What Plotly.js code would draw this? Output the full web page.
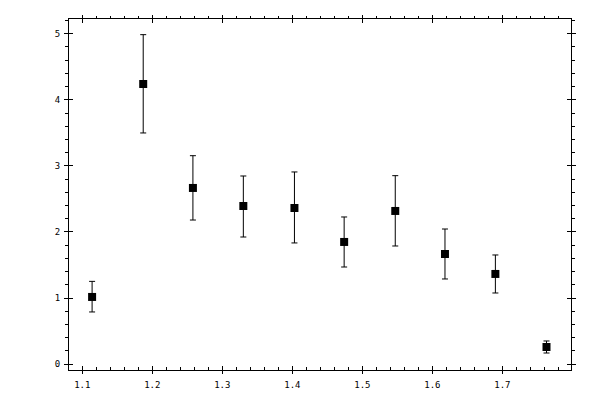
<!DOCTYPE html>
<html>
<head>
<meta charset="utf-8">
<script src="https://cdn.plot.ly/plotly-3.0.1.min.js"></script>
<style>
  body { margin: 0; background: #fff; }
  #plot { width: 600px; height: 400px; }
</style>
</head>
<body>
<div id="plot"></div>
<script>
// punkty pomiarowe
const xVals = [1.114, 1.187, 1.258, 1.330, 1.403, 1.474, 1.547, 1.618, 1.690, 1.763];
const yVals = [1.017, 4.239, 2.666, 2.393, 2.363, 1.849, 2.318, 1.667, 1.365, 0.260];
// niepewnosci w gore i w dol
const errUp   = [0.236, 0.746, 0.488, 0.454, 0.545, 0.378, 0.534, 0.378, 0.287, 0.091];
const errDown = [0.227, 0.741, 0.485, 0.469, 0.529, 0.379, 0.530, 0.378, 0.288, 0.091];

const xRange = [1.081, 1.798];
const yRange = [-0.088, 5.222];

const tickFont = {family: "DejaVu Sans Mono, monospace", size: 9, color: "#000"};

// os bazowa - reszta to nakladki dajace kreski "na krzyz"
function axis(opts){
    return Object.assign({
        showgrid: false,
        zeroline: false,
        linecolor: "#000",
        linewidth: 1,
        tickcolor: "#000",
        tickwidth: 1,
        tickfont: tickFont
    }, opts);
}

var trace = {
    type: "scatter",
    mode: "markers",
    x: xVals,
    y: yVals,
    marker: {symbol: "square", size: 8, color: "#000"},
    error_y: {
        type: "data",
        symmetric: false,
        array: errUp,
        arrayminus: errDown,
        color: "#000",
        thickness: 1,
        width: 3
    },
    showlegend: false,
    hoverinfo: "none"
};

// puste slady, zeby plotly narysowal osie nakladkowe
function emptyTrace(n){
    return {type: "scatter", mode: "markers", x: [], y: [], xaxis: "x" + n, yaxis: "y" + n,
            showlegend: false, hoverinfo: "none"};
}

var layout = {
    width: 600,
    height: 400,
    margin: {l: 69, r: 29, t: 19, b: 30},
    paper_bgcolor: "#fff",
    plot_bgcolor: "rgba(0,0,0,0)",
    showlegend: false,
    // dol: drobne kreski do srodka, glowne na krzyz
    xaxis: axis({
        range: xRange, dtick: 0.1, tick0: 1.0, tickformat: ".1f",
        showline: true, ticks: "inside", ticklen: 4,
        minor: {dtick: 0.02, ticks: "inside", ticklen: 3, tickcolor: "#000"},
        ticklabelstandoff: 6
    }),
    xaxis2: axis({
        range: xRange, dtick: 0.1, tick0: 1.0, overlaying: "x", anchor: "y2", side: "bottom",
        showline: false, ticks: "outside", ticklen: 3, showticklabels: false
    }),
    // gora: drobne na zewnatrz
    xaxis3: axis({
        range: xRange, dtick: 0.1, tick0: 1.0, overlaying: "x", anchor: "y3", side: "top",
        showline: true, ticks: "outside", ticklen: 3, showticklabels: false,
        minor: {dtick: 0.02, ticks: "outside", ticklen: 2, tickcolor: "#000"}
    }),
    xaxis4: axis({
        range: xRange, dtick: 0.1, tick0: 1.0, overlaying: "x", anchor: "y4", side: "top",
        showline: false, ticks: "inside", ticklen: 4, showticklabels: false
    }),
    // lewa: drobne na zewnatrz, glowne na krzyz
    yaxis: axis({
        range: yRange, dtick: 1, tick0: 0,
        showline: true, ticks: "outside", ticklen: 4,
        minor: {dtick: 0.2, ticks: "outside", ticklen: 3, tickcolor: "#000"},
        ticklabelstandoff: 2
    }),
    yaxis2: axis({
        range: yRange, dtick: 1, tick0: 0, overlaying: "y", anchor: "x2", side: "left",
        showline: false, ticks: "inside", ticklen: 4, showticklabels: false
    }),
    // prawa
    yaxis3: axis({
        range: yRange, dtick: 1, tick0: 0, overlaying: "y", anchor: "x3", side: "right",
        showline: true, ticks: "outside", ticklen: 4, showticklabels: false,
        minor: {dtick: 0.2, ticks: "outside", ticklen: 3, tickcolor: "#000"}
    }),
    yaxis4: axis({
        range: yRange, dtick: 1, tick0: 0, overlaying: "y", anchor: "x4", side: "right",
        showline: false, ticks: "inside", ticklen: 4, showticklabels: false
    })
};

Plotly.newPlot("plot", [trace, emptyTrace(2), emptyTrace(3), emptyTrace(4)], layout, {staticPlot: true});
</script>
</body>
</html>
